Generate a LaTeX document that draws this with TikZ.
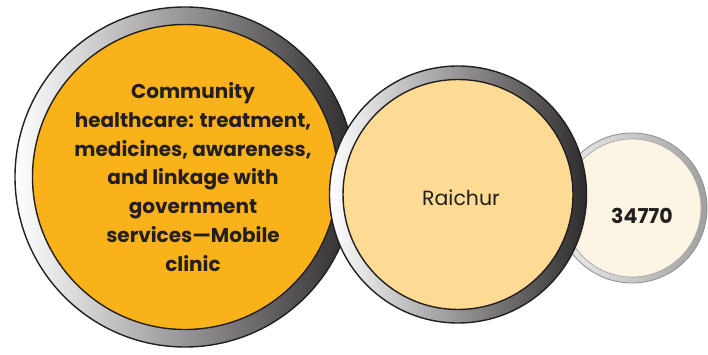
\documentclass[tikz,border=0pt]{standalone}
\usepackage{fontspec}
\setmainfont{Poppins}
\definecolor{orangeA}{HTML}{FAB21A}
\definecolor{paleA}{HTML}{FDDB94}
\definecolor{creamA}{HTML}{FDF5E4}
\definecolor{ink}{HTML}{231F20}
\definecolor{ringdark}{HTML}{2E2B2C}
\tikzset{
  ring/.style={circle, draw=ink, line width=1.4pt, inner sep=0pt, left color=white, right color=ringdark},
  lightring/.style={circle, draw=gray!85, line width=0.9pt, inner sep=0pt, left color=gray!12, right color=gray!75},
  core/.style={circle, draw=ink, line width=1.4pt, inner sep=0pt, text=ink, align=center},
  lightcore/.style={circle, draw=gray!70, line width=0.7pt, inner sep=0pt, text=ink, align=center}
}
\begin{document}
\begin{tikzpicture}[x=1pt,y=1pt]
\useasboundingbox (0,0) rectangle (708,355);
% big circle
\node[ring, minimum size=340pt] (bigring) at (185,178) {};
\node[core, fill=orangeA, minimum size=305pt] (big) at (bigring.center) {};
\node[text=ink, align=center, font=\fontsize{20}{28.8}\selectfont\bfseries] (bigtext) at (193,178)
  {Community\\healthcare: treatment,\\medicines, awareness,\\and linkage with\\government\\services—Mobile\\clinic};
% small circle
\node[lightring, minimum size=150pt] (smallring) at (632,147) {};
\node[lightcore, fill=creamA, minimum size=138pt] (small) at (smallring.center) {};
\node[text=ink, font=\fontsize{20.5}{22}\selectfont\bfseries] (smalltext) at (642,139) {34770};
% middle circle
\node[ring, minimum size=257pt] (midring) at (458,160.5) {};
\node[core, fill=paleA, minimum size=230pt] (mid) at (midring.center) {};
\node[text=ink, font=\fontsize{20.5}{22}\selectfont] (midtext) at (461,157) {Raichur};
\end{tikzpicture}
\end{document}
